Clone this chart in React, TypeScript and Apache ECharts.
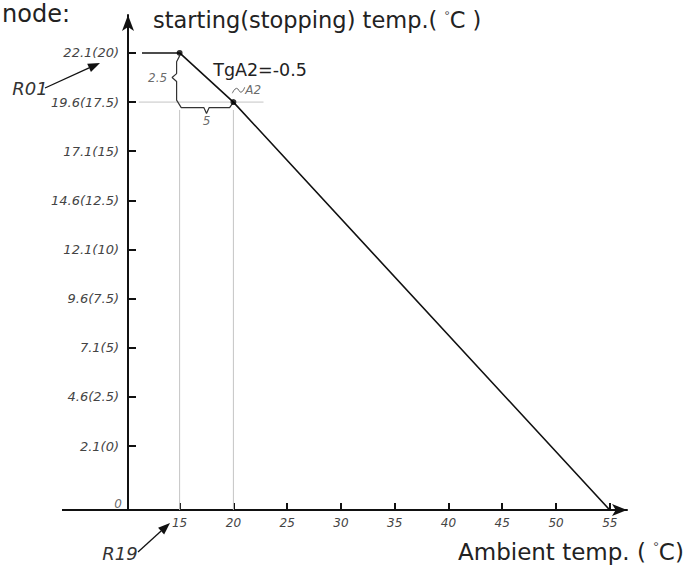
import React, { useEffect, useRef } from "react";
import * as echarts from "echarts";

// Ambient temperature ticks (°C) on the horizontal axis
const ambientTicks = [15, 20, 25, 30, 35, 40, 45, 50, 55];
// Set-point ticks (the bracketed values) on the vertical axis
const settingTicks = [0, 2.5, 5, 7.5, 10, 12.5, 15, 17.5, 20];
// Matching starting temperatures shown in front of the brackets
const startingTicks = [2.1, 4.6, 7.1, 9.6, 12.1, 14.6, 17.1, 19.6, 22.1];

// Axis extents (vertical axis in set-point units; its origin is labelled 0)
const ORIGIN_Y = -3.25;
const Y_MAX = 21.93;
const X_MIN = 10.2;
const X_MAX = 56.6;

// Flat part of the curve, then the falling part through A2
const holdX = [11.5, 15];
const holdY = [20, 20];
const slopeX = [15, 20, 55];
const slopeY = [20, 17.5, ORIGIN_Y];

// Key points: knee and A2
const pointX = [15, 20];
const pointY = [20, 17.5];

// Thin guide lines through the key points
const guideLines: number[][][] = [
  [[15, 17.1], [15, ORIGIN_Y]],
  [[20, 17.1], [20, ORIGIN_Y]],
  [[11.2, 17.5], [22.8, 17.5]],
];

// Brace marking the 2.5 rise and the 5 run
const bracePath = [
  [15, 19.85], [14.72, 19.55], [14.72, 18.95], [14.3, 18.75], [14.72, 18.55],
  [14.72, 17.6], [15.15, 17.22], [17.25, 17.22], [17.5, 16.92], [17.75, 17.22],
  [19.65, 17.22], [20, 17.5],
];

// Small leader from A2 to its tag
const leaderPath = [[19.9, 17.95], [20.3, 18.2], [20.7, 18.0], [21.05, 18.25]];

// Text notes placed in data space: [x, y, text]
const notes: [number, number, string][] = [
  [12.95, 18.72, "2.5"],
  [17.5, 16.55, "5"],
  [21.85, 18.1, "A2"],
];

const ITALIC = "DejaVu Sans";

function arrow(x1: number, y1: number, x2: number, y2: number, head = 12, half = 4.5) {
  const len = Math.hypot(x2 - x1, y2 - y1);
  const ux = (x2 - x1) / len;
  const uy = (y2 - y1) / len;
  const bx = x2 - head * ux;
  const by = y2 - head * uy;
  const px = -uy * half;
  const py = ux * half;
  return [
    { type: "line", shape: { x1, y1, x2: bx, y2: by }, style: { stroke: "#111", lineWidth: 1.3 } },
    {
      type: "polygon",
      shape: { points: [[x2, y2], [bx + px, by + py], [bx - px, by - py]] },
      style: { fill: "#111" },
    },
  ];
}

export default function App() {
  const ref = useRef<HTMLDivElement>(null);

  useEffect(() => {
    if (!ref.current) return;
    const chart = echarts.init(ref.current, undefined, { renderer: "svg" });

    const labelFor = (v: number) => {
      const i = settingTicks.findIndex((s) => Math.abs(s - v) < 1e-6);
      return i < 0 ? "" : `${startingTicks[i]}(${settingTicks[i]})`;
    };

    const thinLine = (data: number[][], color: string, width: number) => ({
      type: "line",
      data,
      symbol: "none",
      silent: true,
      lineStyle: { color, width },
      z: 2,
    });

    chart.setOption({
      animation: false,
      backgroundColor: "#ffffff",
      grid: { left: 128, right: 68, top: 15, bottom: 57, outerBoundsMode: "none" },
      xAxis: {
        type: "value",
        min: X_MIN,
        max: X_MAX,
        axisLine: {
          show: true,
          onZero: false,
          symbol: ["none", "arrow"],
          symbolSize: [9, 15],
          lineStyle: { color: "#111", width: 2 },
        },
        axisTick: {
          show: true,
          inside: true,
          length: 7,
          customValues: ambientTicks,
          lineStyle: { color: "#111", width: 2 },
        },
        axisLabel: {
          customValues: ambientTicks,
          margin: 7,
          color: "#444",
          fontStyle: "italic",
          fontFamily: ITALIC,
          fontSize: 12,
        },
        splitLine: { show: false },
      },
      yAxis: {
        type: "value",
        min: ORIGIN_Y,
        max: Y_MAX,
        axisLine: {
          show: true,
          onZero: false,
          symbol: ["none", "arrow"],
          symbolSize: [9, 16],
          lineStyle: { color: "#111", width: 2 },
        },
        axisTick: {
          show: true,
          inside: true,
          length: 8,
          customValues: settingTicks,
          lineStyle: { color: "#111", width: 2 },
        },
        axisLabel: {
          customValues: settingTicks,
          formatter: labelFor,
          margin: 9,
          color: "#444",
          fontStyle: "italic",
          fontFamily: ITALIC,
          fontSize: 13,
        },
        splitLine: { show: false },
      },
      series: [
        ...guideLines.map((g) => thinLine(g, "#c4c4c4", 1)),
        thinLine(bracePath, "#333", 1.2),
        { ...thinLine(leaderPath, "#666", 1), smooth: true },
        {
          type: "line",
          data: holdX.map((x, i) => [x, holdY[i]]),
          symbol: "none",
          lineStyle: { color: "#111", width: 1.6 },
          z: 3,
        },
        {
          type: "line",
          data: slopeX.map((x, i) => [x, slopeY[i]]),
          symbol: "none",
          lineStyle: { color: "#111", width: 1.6 },
          z: 3,
        },
        {
          type: "scatter",
          data: pointX.map((x, i) => [x, pointY[i]]),
          symbolSize: 6,
          itemStyle: { color: "#000" },
          z: 4,
        },
        {
          type: "scatter",
          symbolSize: 0,
          silent: true,
          data: [
            ...notes.map(([x, y, t]) => ({ value: [x, y], name: t })),
            { value: [X_MIN, ORIGIN_Y], name: "0" },
          ],
          label: {
            show: true,
            position: "inside",
            formatter: (p: any) => p.name,
            color: "#444",
            fontFamily: ITALIC,
            fontSize: 12,
            fontStyle: "italic",
          },
          labelLayout: (p: any) =>
            p.dataIndex === notes.length ? { dx: -10, dy: -6 } : {},
          z: 5,
        },
      ],
    });

    const [ox, oy] = chart.convertToPixel({ gridIndex: 0 }, [X_MIN, ORIGIN_Y]) as number[];
    const [tx, ty] = chart.convertToPixel({ gridIndex: 0 }, [22.48, 19.14]) as number[];

    chart.setOption({
      graphic: [
        // x axis continues to the left of the vertical axis
        {
          type: "line",
          shape: { x1: 62, y1: oy, x2: ox, y2: oy },
          style: { stroke: "#111", lineWidth: 2 },
        },
        {
          type: "text",
          style: {
            text: "node:",
            x: 2,
            y: 2,
            fontFamily: "DejaVu Sans",
            fontSize: 24,
            fill: "#222",
            verticalAlign: "top",
          },
        },
        {
          type: "text",
          style: {
            text: "starting(stopping) temp.( {d|°}C )",
            x: 153,
            y: 20,
            fontFamily: "DejaVu Sans",
            fontSize: 22.5,
            fill: "#222",
            verticalAlign: "middle",
            rich: { d: { fontSize: 13, fill: "#444", padding: [0, 0, 10, 0] } },
          },
        },
        {
          type: "text",
          style: {
            text: "TgA2=-0.5",
            x: tx,
            y: ty,
            fontFamily: "DejaVu Sans",
            fontSize: 17.5,
            fill: "#222",
            align: "center",
            verticalAlign: "middle",
          },
        },
        {
          type: "text",
          style: {
            text: "Ambient temp. ( {d|°}C)",
            x: 458,
            y: 552,
            fontFamily: "DejaVu Sans",
            fontSize: 23,
            fill: "#222",
            verticalAlign: "middle",
            rich: { d: { fontSize: 14, fill: "#444", padding: [0, 0, 10, 0] } },
          },
        },
        {
          type: "text",
          style: {
            text: "R01",
            x: 30,
            y: 88,
            fontFamily: ITALIC,
            fontStyle: "italic",
            fontSize: 18,
            fill: "#333",
            align: "center",
            verticalAlign: "middle",
          },
        },
        {
          type: "text",
          style: {
            text: "R19",
            x: 120,
            y: 553,
            fontFamily: ITALIC,
            fontStyle: "italic",
            fontSize: 18,
            fill: "#333",
            align: "center",
            verticalAlign: "middle",
          },
        },
        ...arrow(45, 88, 100, 63),
        ...arrow(138, 552, 170, 523),
      ],
    });

    return () => chart.dispose();
  }, []);

  return (
    <div
      ref={ref}
      style={{ position: "fixed", left: 0, top: 0, width: 695, height: 567, background: "#fff" }}
    />
  );
}
